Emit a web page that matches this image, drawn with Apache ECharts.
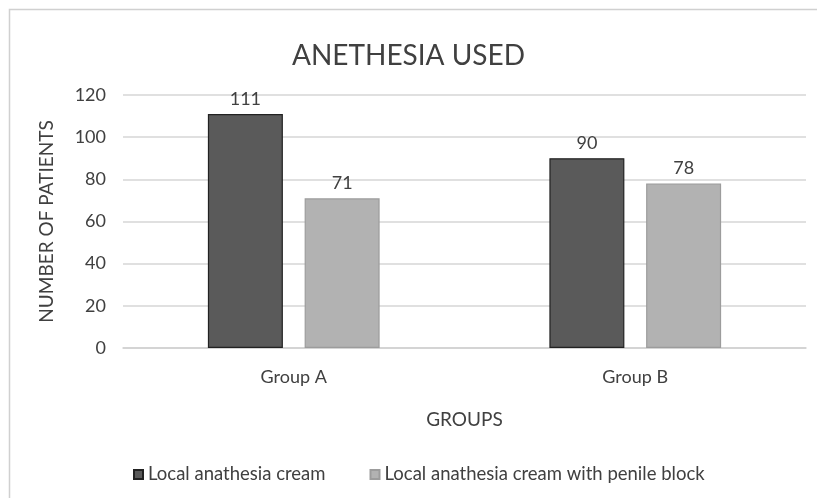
<!DOCTYPE html>
<html>
<head>
<meta charset="utf-8">
<script src="https://cdn.jsdelivr.net/npm/echarts@6/dist/echarts.min.js"></script>
<style>
  html, body { margin: 0; padding: 0; background: #fff; }
  #chart { width: 817px; height: 498px; }
</style>
</head>
<body>
<div id="chart"></div>
<script>
// Patient counts per group and anaesthesia type
const groups = ['Group A', 'Group B'];
const creamOnly = [111, 90];
const creamWithBlock = [71, 78];
const seriesNames = ['Local anathesia cream', 'Local anathesia cream with penile block'];
const yTicks = { min: 0, max: 120, interval: 20 };

const FONT = 'Lato, "Open Sans", sans-serif';
const TEXT = '#404040';

const chart = echarts.init(document.getElementById('chart'));
chart.setOption({
  animation: false,
  textStyle: { fontFamily: FONT, color: TEXT },
  graphic: [{
    type: 'rect',
    shape: { x: 9.5, y: 9.5, width: 820, height: 500 },
    style: { fill: 'none', stroke: '#d0d0d0', lineWidth: 1.5 },
    silent: true
  }],
  title: {
    text: 'ANETHESIA USED',
    left: 'center',
    top: 37,
    textStyle: { fontFamily: FONT, fontSize: 28, fontWeight: 'normal', color: TEXT }
  },
  legend: {
    top: 460,
    left: 128,
    itemWidth: 9,
    itemHeight: 9,
    itemGap: 44,
    icon: 'rect',
    textStyle: { fontFamily: FONT, fontSize: 18.5, color: TEXT },
    data: seriesNames
  },
  grid: { left: 123, right: 11, top: 95, bottom: 150, containLabel: false },
  xAxis: {
    type: 'category',
    data: groups,
    name: 'GROUPS',
    nameLocation: 'middle',
    nameGap: 62,
    nameTextStyle: { fontFamily: FONT, fontSize: 19, color: TEXT },
    axisLine: { lineStyle: { color: '#d0d0d0', width: 1.5 } },
    axisTick: { show: false },
    axisLabel: { fontFamily: FONT, fontSize: 18, color: TEXT, margin: 20 }
  },
  yAxis: {
    type: 'value',
    min: yTicks.min,
    max: yTicks.max,
    interval: yTicks.interval,
    name: 'NUMBER OF PATIENTS',
    nameLocation: 'middle',
    nameRotate: 90,
    nameGap: 67,
    nameTextStyle: { fontFamily: FONT, fontSize: 19, color: TEXT },
    axisLine: { show: false },
    axisTick: { show: false },
    axisLabel: { fontFamily: FONT, fontSize: 18, color: TEXT, margin: 17 },
    splitLine: { lineStyle: { color: '#d6d6d6', width: 1.5 } }
  },
  series: [
    {
      name: seriesNames[0],
      type: 'bar',
      data: creamOnly,
      barWidth: 75,
      barGap: '29%',
      itemStyle: { color: '#5a5a5a', borderColor: '#222', borderWidth: 1.2 },
      label: { show: true, position: 'top', distance: 6, fontFamily: FONT, fontSize: 18, color: TEXT }
    },
    {
      name: seriesNames[1],
      type: 'bar',
      data: creamWithBlock,
      barWidth: 75,
      itemStyle: { color: '#b2b2b2', borderColor: '#9c9c9c', borderWidth: 1.2 },
      label: { show: true, position: 'top', distance: 6, fontFamily: FONT, fontSize: 18, color: TEXT }
    }
  ]
});
</script>
</body>
</html>
